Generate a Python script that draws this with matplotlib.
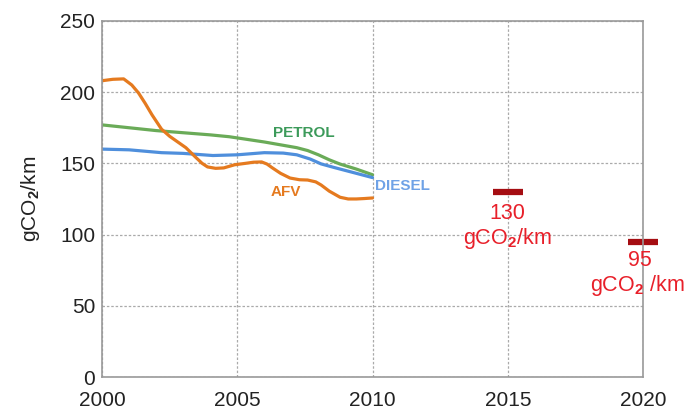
import matplotlib.pyplot as plt

plt.rcParams['font.family'] = ['Liberation Sans', 'DejaVu Sans']
plt.rcParams['mathtext.fontset'] = 'custom'
plt.rcParams['mathtext.rm'] = 'Liberation Sans'
plt.rcParams['mathtext.bf'] = 'Liberation Sans:bold'

# Data
petrol_years = [2000, 2001, 2002, 2003, 2004, 2004.7, 2005.3, 2006, 2006.6, 2007.2, 2007.6, 2008, 2008.4, 2008.8, 2009.4, 2010]
petrol_vals = [177, 175, 173, 171.5, 170, 168.7, 167, 165, 163, 161, 159, 156, 152.5, 149.5, 146, 142]

diesel_years = [2000, 2001, 2002.2, 2003, 2004.1, 2005, 2006, 2006.7, 2007.2, 2007.7, 2008.1, 2008.6, 2009, 2009.5, 2010]
diesel_vals = [160, 159.5, 157.5, 157, 155.5, 156, 157.5, 157.2, 156, 153, 149.6, 147, 145, 142.5, 140]

afv_years = [2000, 2000.4, 2000.8, 2001.1, 2001.35, 2001.6, 2001.85, 2002.2, 2002.5, 2002.8, 2003.1, 2003.45, 2003.7, 2003.9,
             2004.2, 2004.5, 2004.9, 2005.3, 2005.6, 2005.9, 2006.1, 2006.3, 2006.6, 2006.95, 2007.3, 2007.6, 2007.9,
             2008.1, 2008.4, 2008.8, 2009.1, 2009.4, 2009.7, 2010]
afv_vals = [208, 209, 209.3, 205, 199.4, 192, 184, 174, 169, 165, 161, 154.5, 150, 147.5,
            146.5, 146.8, 149, 150, 150.8, 151, 149.5, 146.8, 143, 139.7, 138.5, 138.3, 137,
            134.8, 130.5, 126.2, 125, 125, 125.3, 125.7]

target_years = [2015, 2020]
target_vals = [130, 95]
target_labels = ['130', '95']

fig = plt.figure(figsize=(6.87, 4.18), dpi=100)
ax = fig.add_axes([0.1485, 0.098, 0.7875, 0.852])

ax.plot(petrol_years, petrol_vals, color='#6aab58', lw=2.3, solid_capstyle='round', solid_joinstyle='round')
ax.plot(diesel_years, diesel_vals, color='#4f8fdc', lw=2.3, solid_capstyle='round', solid_joinstyle='round')
ax.plot(afv_years, afv_vals, color='#e57a1f', lw=2.3, solid_capstyle='round', solid_joinstyle='round')

ax.text(2007.45, 171, 'PETROL', color='#3c9a5a', fontsize=11, fontweight='bold', ha='center', va='center')
ax.text(2006.8, 130, 'AFV', color='#e57a1f', fontsize=11, fontweight='bold', ha='center', va='center')
ax.text(2010.1, 134, 'DIESEL', color='#6fa2e6', fontsize=11, fontweight='bold', ha='left', va='center')

for yr, v in zip(target_years, target_vals):
    ax.plot([yr - 0.55, yr + 0.55], [v, v], color='#a50d12', lw=4.5, solid_capstyle='butt', clip_on=False)

ax.text(2015, 115, target_labels[0], color='#e8202a', fontsize=15.5, ha='center', va='center')
ax.text(2015, 97.5, r'gCO$_\mathbf{2}$/km', color='#e8202a', fontsize=15.5, ha='center', va='center')
ax.text(2019.9, 82, target_labels[1], color='#e8202a', fontsize=15.5, ha='center', va='center', clip_on=False)
ax.text(2019.8, 64, r'gCO$_\mathbf{2}$ /km', color='#e8202a', fontsize=15.5, ha='center', va='center', clip_on=False)

ax.set_xlim(2000, 2020)
ax.set_ylim(0, 250)
ax.set_xticks([2000, 2005, 2010, 2015, 2020])
ax.set_yticks([0, 50, 100, 150, 200, 250])
ax.tick_params(length=0, labelsize=15, colors='#222222')
ax.tick_params(axis='x', pad=10)
ax.tick_params(axis='y', pad=5)
ax.set_ylabel(r'gCO$_\mathbf{2}$/km', fontsize=15, color='#222222', labelpad=13)
ax.grid(True, color='#aaaaaa', linestyle=(0, (2, 1.5)), lw=0.9)
for s in ax.spines.values():
    s.set_color('#999999')
    s.set_linewidth(1.2)

fig.savefig('out.png', dpi=100)
